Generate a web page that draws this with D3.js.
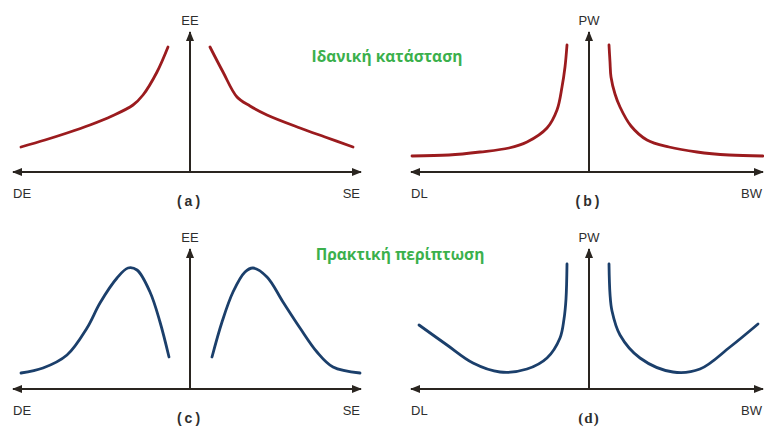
<!DOCTYPE html>
<html><head><meta charset="utf-8">
<script src="https://cdn.jsdelivr.net/npm/d3@7"></script>
<style>body{margin:0;background:#fff}svg{display:block}</style>
</head><body>
<svg id="c" width="764" height="429"></svg>
<script>
// Data: [x offset from vertical axis, height above horizontal axis] in abstract units
const panelLabels = ["(a)", "(b)", "(c)", "(d)"];
const yAxisLabels = ["EE", "PW", "EE", "PW"];
const leftLabels = ["DE", "DL", "DE", "DL"];
const rightLabels = ["SE", "BW", "SE", "BW"];
const titles = ["Ιδανική κατάσταση", "Πρακτική περίπτωση"];

const idealEELeft = [[-169,25],[-145,32],[-123,39],[-100,47],[-78,56],[-57,67],[-47,77],[-33,100],[-22,125]];
const idealEERight = [[20,125],[33,100],[47,75],[60,66],[77,57],[110,44],[135,35],[163,25]];
const idealPWLeft = [[-177,16],[-140,17],[-109,20],[-80,24],[-62,30],[-42,44],[-32,62],[-27,85],[-24,105],[-22,127]];
const idealPWRight = [[20,127],[21,110],[22,95],[26,78],[31,65],[42,46],[58,32],[80,25],[108,20],[140,17],[174,16]];
const realEELeft = [[-169,16],[-147,21],[-123,34],[-103,61],[-90,86],[-73,111],[-62,121],[-53,119],[-40,97],[-30,67],[-21,32]];
const realEERight = [[22,32],[32,67],[43,97],[55,117],[63,121],[77,112],[93,87],[110,61],[127,37],[143,22],[170,16]];
const realPWLeft = [[-170,64],[-142,44],[-116,26],[-89,17],[-62,20],[-42,31],[-29,51],[-25,70],[-23,90],[-22,125]];
const realPWRight = [[20,125],[21,95],[23,78],[31,54],[51,31],[84,17],[111,20],[141,42],[169,65]];

const panels = [
  {cx:190, ay:172, xl:13, xr:361, series:[idealEELeft, idealEERight], color:"#9b1b1e"},
  {cx:589, ay:172, xl:411, xr:763, series:[idealPWLeft, idealPWRight], color:"#9b1b1e"},
  {cx:190, ay:389, xl:13, xr:361, series:[realEELeft, realEERight], color:"#1b3f6b"},
  {cx:589, ay:389, xl:411, xr:763, series:[realPWLeft, realPWRight], color:"#1b3f6b"}
];

const svg = d3.select("#c");
const defs = svg.append("defs");
defs.append("marker").attr("id","arr").attr("viewBox","0 0 10 10").attr("refX",9).attr("refY",5)
  .attr("markerWidth",5).attr("markerHeight",5).attr("orient","auto-start-reverse").attr("markerUnits","strokeWidth")
  .append("path").attr("d","M0,1 L10,5 L0,9 Z").attr("fill","#2a2520");

const axisColor = "#2a2520";
panels.forEach((p, i) => {
  const x = d3.scaleLinear().domain([-180, 180]).range([p.cx - 180, p.cx + 180]);
  const y = d3.scaleLinear().domain([0, 140]).range([p.ay, p.ay - 140]);
  const g = svg.append("g");
  g.append("line").attr("x1", p.xl).attr("x2", p.xr).attr("y1", y(0)).attr("y2", y(0))
    .attr("stroke", axisColor).attr("stroke-width", 2)
    .attr("marker-start","url(#arr)").attr("marker-end","url(#arr)");
  g.append("line").attr("x1", x(0)).attr("x2", x(0)).attr("y1", y(0)+1).attr("y2", y(140))
    .attr("stroke", axisColor).attr("stroke-width", 2).attr("marker-end","url(#arr)");
  const line = d3.line().x(d => x(d[0])).y(d => y(d[1])).curve(d3.curveCatmullRom.alpha(0.5));
  p.series.forEach(s => {
    g.append("path").attr("d", line(s)).attr("fill","none").attr("stroke", p.color)
      .attr("stroke-width", 2.8).attr("stroke-linecap","round");
  });
  const font = "Liberation Sans, Arial, sans-serif";
  g.append("text").attr("x", x(0)).attr("y", y(140) - 7).attr("text-anchor","middle")
    .attr("font-family", font).attr("font-size", 13).attr("fill","#2e2e2e").text(yAxisLabels[i]);
  g.append("text").attr("x", p.xl).attr("y", y(0) + 26).attr("font-family", font)
    .attr("font-size", 13).attr("fill","#2e2e2e").text(leftLabels[i]);
  g.append("text").attr("x", i % 2 ? 741 : p.xr - 1).attr("y", y(0) + 26)
    .attr("text-anchor", i % 2 ? "start" : "end").attr("font-family", font)
    .attr("font-size", 13).attr("fill","#2e2e2e").text(rightLabels[i]);
  g.append("text").attr("x", x(0)).attr("y", y(0) + 34).attr("text-anchor","middle")
    .attr("font-family", i === 3 ? "Liberation Serif, serif" : font).attr("font-weight","bold")
    .attr("font-size", i === 3 ? 15 : 14).attr("letter-spacing", i === 3 ? 1 : 3).attr("fill","#2e2e2e").text(panelLabels[i]);
});

svg.append("text").attr("x", 387).attr("y", 62).attr("text-anchor","middle")
  .attr("font-family","Open Sans, sans-serif").attr("font-weight","bold").attr("font-size",15.5)
  .attr("fill","#3bb04c").text(titles[0]);
svg.append("text").attr("x", 400).attr("y", 260).attr("text-anchor","middle")
  .attr("font-family","Open Sans, sans-serif").attr("font-weight","bold").attr("font-size",15.5)
  .attr("fill","#3bb04c").text(titles[1]);
</script>
</body></html>
